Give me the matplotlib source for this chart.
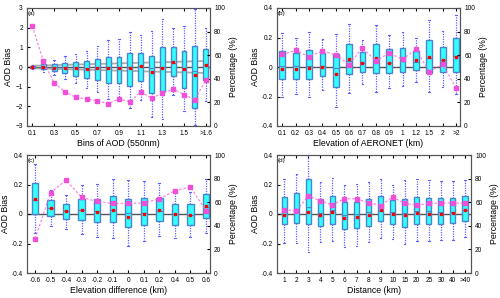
import numpy as np
import matplotlib.pyplot as plt

plt.rcParams['font.family'] = ['Liberation Sans', 'DejaVu Sans']
plt.rcParams['font.size'] = 5

# (a) bins of AOD
a_labels = ['0.1', '0.2', '0.3', '0.4', '0.5', '0.6', '0.7', '0.8', '0.9',
            '1.0', '1.1', '1.2', '1.3', '1.4', '1.5', '1.6', '>1.6']
a_q3 = [0.07, 0.14, 0.17, 0.20, 0.25, 0.29, 0.41, 0.53, 0.53, 0.69, 0.71, 0.58, 1.00, 1.02, 0.81, 1.08, 0.93]
a_q1 = [-0.07, -0.10, -0.20, -0.30, -0.44, -0.54, -0.64, -0.80, -0.80, -0.97, -0.73, -1.30, -1.22, -0.47, -1.07, -2.08, -0.68]
a_hi = [0.12, 0.34, 0.37, 0.54, 0.68, 0.80, 1.08, 1.39, 1.44, 1.76, 1.64, 1.81, 2.44, 1.98, 2.08, 2.97, 2.00]
a_lo = [-0.12, -0.25, -0.42, -0.61, -0.81, -1.05, -1.29, -1.63, -1.66, -2.07, -1.66, -2.54, -2.66, -1.40, -2.25, -2.97, -1.73]
a_med = [0.0, 0.01, 0.0, 0.0, -0.02, -0.03, -0.02, -0.02, -0.02, 0.0, 0.05, -0.05, 0.0, 0.2, -0.05, -0.2, 0.08]
a_mean = [0.0, 0.02, -0.03, -0.03, -0.04, -0.08, -0.06, -0.06, -0.05, -0.04, 0.05, -0.25, -0.03, 0.25, -0.10, -0.40, 0.10]
a_pct = [84.7, 55, 36.7, 29, 24.3, 22.9, 21.2, 19, 22.9, 20.6, 28.8, 23.7, 27.7, 31.4, 26.6, 22.3, 38.7]
a_tau = [0.1, 0.2, 0.3, 0.4, 0.5, 0.6, 0.7, 0.8, 0.9, 1.0, 1.1, 1.2, 1.3, 1.4, 1.5, 1.6, 1.7]

# (b) elevation of AERONET
b_labels = ['0.1', '0.2', '0.3', '0.4', '0.5', '0.6', '0.7', '0.8', '0.9', '1', '1.2', '1.5', '2', '>2']
b_q3 = [0.106, 0.097, 0.113, 0.097, 0.086, 0.158, 0.100, 0.158, 0.120, 0.131, 0.110, 0.180, 0.138, 0.200]
b_q1 = [-0.084, -0.081, -0.084, -0.060, -0.133, -0.047, -0.034, -0.043, -0.040, -0.032, -0.020, -0.040, -0.032, -0.032]
b_hi = [0.228, 0.200, 0.237, 0.190, 0.226, 0.290, 0.183, 0.285, 0.219, 0.235, 0.200, 0.320, 0.246, 0.350]
b_lo = [-0.206, -0.185, -0.206, -0.156, -0.273, -0.176, -0.115, -0.167, -0.140, -0.129, -0.100, -0.170, -0.138, -0.180]
b_med = [0.01, 0.005, 0.01, 0.01, -0.01, 0.04, 0.03, 0.04, 0.03, 0.04, 0.035, 0.06, 0.045, 0.075]
b_mean = [-0.015, -0.015, -0.01, -0.002, -0.05, 0.055, 0.027, 0.06, 0.03, 0.05, 0.045, 0.065, 0.045, 0.068]
b_pct = [60.7, 64.1, 58.8, 63.6, 60.2, 52, 66.4, 55, 61.9, 56.5, 65, 46, 52.3, 32.2]

# (c) elevation difference
c_labels = ['-0.6', '-0.5', '-0.4', '-0.3', '-0.2', '-0.1', '0', '0.1', '0.2', '0.4', '0.5', '0.6']
c_q3 = [0.21, 0.093, 0.066, 0.10, 0.10, 0.122, 0.10, 0.108, 0.108, 0.07, 0.066, 0.138]
c_q1 = [0.0, -0.016, -0.036, -0.038, -0.052, -0.052, -0.088, -0.072, -0.048, -0.075, -0.072, -0.027]
c_hi = [0.34, 0.16, 0.13, 0.197, 0.206, 0.238, 0.23, 0.224, 0.213, 0.156, 0.15, 0.24]
c_lo = [-0.13, -0.08, -0.104, -0.138, -0.154, -0.165, -0.215, -0.183, -0.15, -0.165, -0.158, -0.13]
c_med = [0.095, 0.04, 0.02, 0.03, 0.02, 0.03, 0.01, 0.01, 0.02, 0.0, -0.005, 0.05]
c_mean = [0.105, 0.04, 0.02, 0.03, 0.015, 0.03, -0.02, 0.0, 0.027, 0.0, -0.01, 0.057]
c_pct = [29, 68, 78.6, 64, 60.6, 58.9, 58.9, 59.4, 62.8, 69.6, 73, 52.7]

# (d) distance
d_labels = ['1', '2', '3', '4', '5', '6', '7', '8', '9', '10', '15', '20', '25', '30', '40', '>40']
d_q3 = [0.115, 0.145, 0.238, 0.10, 0.12, 0.08, 0.084, 0.10, 0.124, 0.093, 0.104, 0.115, 0.11, 0.108, 0.108, 0.122]
d_q1 = [-0.068, -0.06, -0.068, -0.08, -0.065, -0.104, -0.097, -0.08, -0.05, -0.065, -0.088, -0.066, -0.068, -0.066, -0.06, -0.05]
d_hi = [0.238, 0.27, 0.42, 0.217, 0.242, 0.20, 0.204, 0.22, 0.24, 0.197, 0.23, 0.24, 0.23, 0.224, 0.226, 0.233]
d_lo = [-0.195, -0.195, -0.26, -0.192, -0.181, -0.224, -0.215, -0.19, -0.16, -0.172, -0.20, -0.183, -0.18, -0.178, -0.174, -0.158]
d_med = [0.0, 0.03, 0.05, 0.01, 0.03, -0.01, 0.0, 0.015, 0.02, 0.015, 0.01, 0.02, 0.02, 0.015, 0.015, 0.025]
d_mean = [-0.005, 0.03, 0.015, -0.01, 0.015, -0.03, -0.02, -0.005, 0.03, 0.0, -0.01, 0.005, 0.0, 0.0, 0.005, 0.03]
d_pct = [53.8, 52.4, 65.4, 61.1, 57.7, 63, 62.8, 59.7, 57.2, 64.3, 59, 57.5, 58.9, 59.4, 59.4, 59]


def draw_panel(ax, labels, q1, q3, lo, hi, med, mean, pct, ylim, yticks,
               xlabel, tag, xlim, width, tick_step=1):
    n = len(labels)
    pos = np.arange(1, n + 1)
    stats = []
    for i in range(n):
        stats.append(dict(med=med[i], q1=q1[i], q3=q3[i],
                          whislo=lo[i], whishi=hi[i], fliers=[]))
    ax.axhline(0, color='#555555', lw=1.0, zorder=1)
    ax.bxp(stats, positions=pos, widths=width, patch_artist=True,
           showfliers=False, capwidths=width * 0.3,
           boxprops=dict(facecolor='#33FFFF', edgecolor='#4A86C8', lw=1.0),
           medianprops=dict(color='#4A86C8', lw=0.8),
           whiskerprops=dict(color='#6060FF', lw=0.9, linestyle=(0, (1, 1))),
           capprops=dict(color='#6060FF', lw=0.8),
           zorder=3)
    ax.plot(pos, mean, 's', color='red', ms=1.6, zorder=4)
    ax.set_xlim(*xlim)
    ax.set_ylim(*ylim)
    ax.set_yticks(yticks)
    ax.set_xticks(pos[::tick_step])
    ax.set_xticklabels(labels[::tick_step])
    ax.set_xlabel(xlabel, labelpad=1.5, fontsize=6.3)
    ax.set_ylabel('AOD Bias', labelpad=1.5, fontsize=6.3)
    ax.tick_params(direction='in', length=2, top=True, pad=3, labelsize=4.7)
    ax.text(0.005, 0.975, tag, transform=ax.transAxes, ha='left', va='top', fontsize=4.5)
    for s in ax.spines.values():
        s.set_color('#555555')
        s.set_linewidth(0.8)
    ax2 = ax.twinx()
    ax2.plot(pos, pct, '--', color='#FF66DD', lw=0.9, alpha=0.8, dashes=(2, 1.5))
    ax2.plot(pos, pct, 's', color='#F050D8', ms=2.8)
    ax2.set_ylim(0, 100)
    ax2.set_yticks([0, 20, 40, 60, 80, 100])
    ax2.set_ylabel('Percentage (%)', labelpad=3, fontsize=6.3)
    ax2.tick_params(direction='in', length=2, pad=3, labelsize=4.7)
    for s in ax2.spines.values():
        s.set_color('#555555')
        s.set_linewidth(0.8)
    return ax2


fig = plt.figure(figsize=(5, 2.98), dpi=100)
ax_a = fig.add_axes([27 / 500, 1 - 126 / 298, 183 / 500, 118 / 298])
ax_b = fig.add_axes([277 / 500, 1 - 126 / 298, 183 / 500, 118 / 298])
ax_c = fig.add_axes([27 / 500, 1 - 273 / 298, 183 / 500, 118 / 298])
ax_d = fig.add_axes([277 / 500, 1 - 273 / 298, 194 / 500, 118 / 298])

small_ticks = [-0.4, -0.2, 0, 0.2, 0.4]

# envelope lines for panel (a)
pos_a = np.arange(1, len(a_labels) + 1)
env = 0.05 + 0.15 * np.array(a_tau)
ax_a.plot(pos_a, env, color='#999999', lw=1.3, alpha=0.8, zorder=2)
ax_a.plot(pos_a, -env, color='#999999', lw=1.3, alpha=0.8, zorder=2)
draw_panel(ax_a, a_labels, a_q1, a_q3, a_lo, a_hi, a_med, a_mean, a_pct,
           (-3, 3), [-3, -2, -1, 0, 1, 2, 3], 'Bins of AOD (550nm)', '(a)',
           (0.5, 17.4), 0.45, tick_step=2)
draw_panel(ax_b, b_labels, b_q1, b_q3, b_lo, b_hi, b_med, b_mean, b_pct,
           (-0.4, 0.4), small_ticks, 'Elevation of AERONET (km)', '(b)',
           (0.6, 14.3), 0.43)
draw_panel(ax_c, c_labels, c_q1, c_q3, c_lo, c_hi, c_med, c_mean, c_pct,
           (-0.4, 0.4), small_ticks, 'Elevation difference (km)', '(c)',
           (0.48, 12.26), 0.41)
draw_panel(ax_d, d_labels, d_q1, d_q3, d_lo, d_hi, d_med, d_mean, d_pct,
           (-0.4, 0.4), small_ticks, 'Distance (km)', '(d)',
           (0.4, 16.5), 0.42)
for ax in (ax_b, ax_c, ax_d):
    ax.set_yticklabels(['-0.4', '-0.2', '0', '0.2', '0.4'])

fig.savefig('out.png', dpi=100)
